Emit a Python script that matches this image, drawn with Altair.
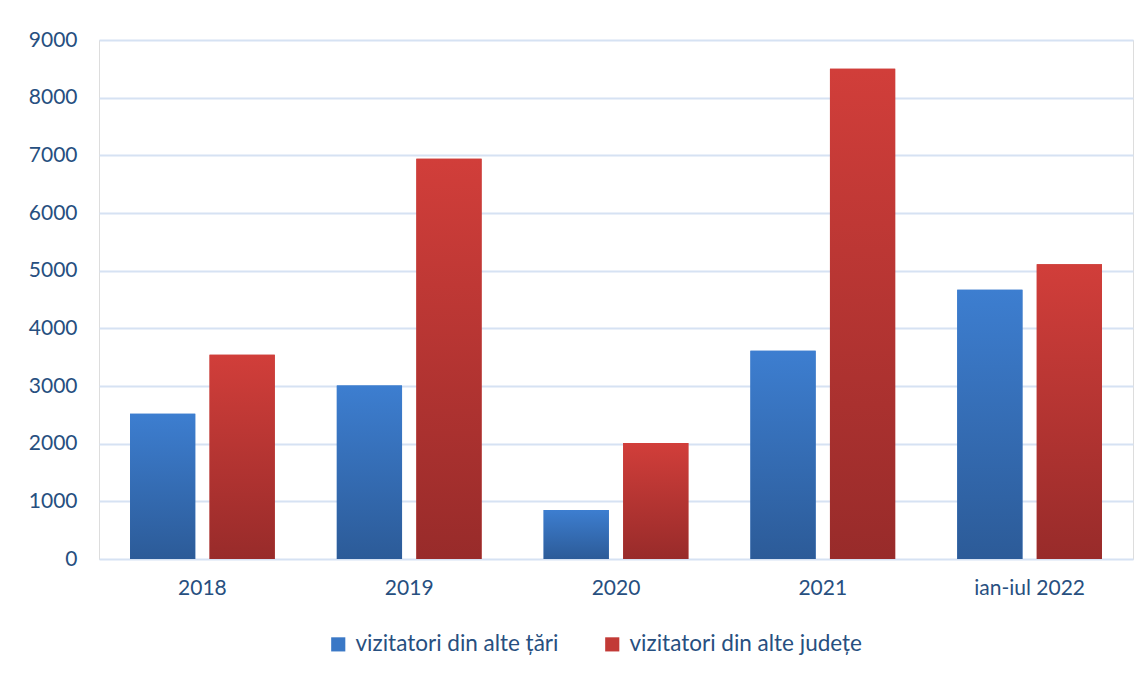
import altair as alt
import pandas as pd

years = ["2018", "2019", "2020", "2021", "ian-iul 2022"]
series = ["vizitatori din alte țări", "vizitatori din alte județe"]
foreign = [2520, 3010, 850, 3610, 4670]
domestic = [3540, 6940, 2010, 8500, 5110]
solid_colors = ["#3A78C6", "#C23A36"]

rows = []
for y, a, b in zip(years, foreign, domestic):
    rows.append({"an": y, "serie": series[0], "valoare": a})
    rows.append({"an": y, "serie": series[1], "valoare": b})
df = pd.DataFrame(rows)

FONT = "Lato"
TXT = "#274F80"

blue_grad = alt.Gradient(
    gradient="linear", x1=0, y1=0, x2=0, y2=1,
    stops=[alt.GradientStop(color="#3D7ED0", offset=0),
           alt.GradientStop(color="#2C5B98", offset=1)])
red_grad = alt.Gradient(
    gradient="linear", x1=0, y1=0, x2=0, y2=1,
    stops=[alt.GradientStop(color="#D13E3A", offset=0),
           alt.GradientStop(color="#982B2A", offset=1)])

x_enc = alt.X("an:N", sort=years, title=None,
              scale=alt.Scale(paddingInner=0.3, paddingOuter=0.15),
              axis=alt.Axis(labelAngle=0, ticks=False, domain=False, grid=False,
                            labelPadding=18, labelFontSize=21, labelFont=FONT,
                            labelColor=TXT))
xo_enc = alt.XOffset("serie:N", sort=series,
                     scale=alt.Scale(domain=series, paddingInner=0.18, paddingOuter=0))
y_enc = alt.Y("valoare:Q", title=None,
              scale=alt.Scale(domain=[0, 9000], nice=False),
              axis=alt.Axis(values=list(range(0, 9001, 1000)), format="d",
                            ticks=False, domain=False,
                            grid=True, gridColor="#D6E2F3", gridWidth=2,
                            labelPadding=22, labelFontSize=21, labelFont=FONT,
                            labelColor=TXT))

base = alt.Chart(df)

legend_layer = base.mark_bar().encode(
    x=x_enc, xOffset=xo_enc, y=y_enc,
    color=alt.Color("serie:N", sort=series,
                    scale=alt.Scale(domain=series, range=solid_colors),
                    legend=alt.Legend(title=None, orient="none", direction="horizontal",
                                      legendX=228, legendY=74 + 519,
                                      symbolType="square", symbolSize=200,
                                      symbolStrokeWidth=0, labelLimit=0,
                                      labelFontSize=22.5, labelFont=FONT, labelColor=TXT,
                                      columnPadding=42, labelOffset=6)),
)

blue_layer = base.mark_bar(color=blue_grad).encode(
    x=x_enc, xOffset=xo_enc, y=y_enc
).transform_filter(alt.datum.serie == series[0])

red_layer = base.mark_bar(color=red_grad).encode(
    x=x_enc, xOffset=xo_enc, y=y_enc
).transform_filter(alt.datum.serie == series[1])

chart = alt.layer(legend_layer, blue_layer, red_layer).properties(
    width=1034, height=519,
    padding={"left": 91, "top": 32, "right": 6, "bottom": 110},
    autosize=alt.AutoSizeParams(type="none"),
).configure_view(stroke=None).configure(background="white")

chart.save("out.html", embed_options={"renderer": "svg", "actions": False})
